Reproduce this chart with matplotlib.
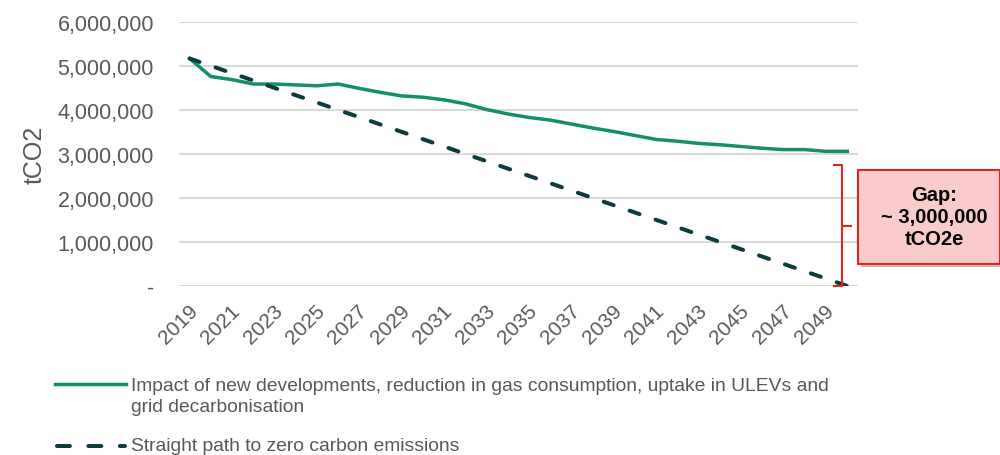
import matplotlib.pyplot as plt
import matplotlib.transforms as mtransforms
from matplotlib.lines import Line2D
from matplotlib.patches import Rectangle
from matplotlib.ticker import FuncFormatter

plt.rcParams['font.family'] = ['Liberation Sans', 'DejaVu Sans']

years = list(range(2019, 2051))
emissions = [5170000, 4760000, 4690000, 4590000, 4590000, 4570000, 4550000, 4590000,
             4490000, 4400000, 4320000, 4290000, 4230000, 4140000, 4010000, 3910000,
             3830000, 3770000, 3680000, 3590000, 3510000, 3420000, 3330000, 3290000,
             3240000, 3210000, 3170000, 3130000, 3100000, 3100000, 3060000, 3060000]
straight_years = [2019, 2050]
straight_path = [5170000, 0]

label_green = ('Impact of new developments, reduction in gas consumption, uptake in ULEVs and\n'
               'grid decarbonisation')
label_dash = 'Straight path to zero carbon emissions'
gap_text = 'Gap:\n~ 3,000,000\ntCO2e'

green = '#138f6a'
dark = '#0d3b40'
grey = '#595959'
red = '#e2261c'

fig = plt.figure(figsize=(10, 4.56), dpi=100)
ax = fig.add_axes([0.179, 0.3706, 0.679, 0.579])

ax.plot(years, emissions, color=green, lw=2.5, zorder=3)
ax.plot(straight_years, straight_path, color=dark, lw=2.9, dashes=(2.6, 4.2),
        dash_capstyle='round', zorder=3)

ax.set_xlim(2018.5, 2050.5)
ax.set_ylim(0, 6000000)
ax.set_yticks(range(0, 6000001, 1000000))
ax.yaxis.set_major_formatter(FuncFormatter(lambda v, p: '-' if v == 0 else f'{int(v):,}'))
ax.set_xticks(years[::2])
ax.set_xticklabels([str(y) for y in years[::2]], rotation=45, ha='right', va='center',
                   rotation_mode='anchor')
ax.tick_params(axis='both', length=0, colors=grey)
ax.tick_params(axis='y', pad=18, labelsize=15.5)
ax.tick_params(axis='x', pad=15, labelsize=15)
# nudge year labels a little to the right (after tick_params, which resets transforms)
shift = mtransforms.ScaledTranslation(5 / 100, 0, fig.dpi_scale_trans)
for tick in ax.xaxis.get_major_ticks():
    tick.label1.set_transform(tick.label1.get_transform() + shift)
ax.grid(axis='y', color='#d9d9d9', lw=1.5)
ax.set_axisbelow(True)
for s in ax.spines.values():
    s.set_visible(False)
ax.set_ylabel('tCO2', color=grey, fontsize=18, labelpad=8)

# gap bracket
bx = 2049.75
ax.plot([bx - 0.38, bx, bx, bx - 0.38], [2750000, 2750000, 0, 0], color=red, lw=1.5,
        clip_on=False, zorder=4)
ax.plot([bx, bx + 0.42], [1360000, 1360000], color=red, lw=1.5, clip_on=False, zorder=4)

# gap box
fig.patches.append(Rectangle((0.861, 0.412), 0.142, 0.206, transform=fig.transFigure,
                             facecolor='#bfbfbf', edgecolor='none', zorder=1))
fig.patches.append(Rectangle((0.858, 0.419), 0.142, 0.206, transform=fig.transFigure,
                             facecolor='#f9cbcb', edgecolor=red, lw=1.5, zorder=2))
fig.text(0.934, 0.522, gap_text, ha='center', va='center', fontsize=14.5,
         fontweight='bold', linespacing=1.2, color='black')

# legend
fig.add_artist(Line2D([0.055, 0.126], [1 - 385 / 456] * 2, color=green, lw=2.5))
fig.text(0.131, 1 - 397 / 456, label_green, ha='left', va='center', fontsize=13.9,
         color=grey, linespacing=1.35)
fig.add_artist(Line2D([0.057, 0.125], [1 - 447 / 456] * 2, color=dark, lw=2.9,
                      dashes=(3.2, 4.6), dash_capstyle='round'))
fig.text(0.131, 1 - 447 / 456, label_dash, ha='left', va='center', fontsize=13.9,
         color=grey)

fig.savefig('out.png', dpi=100)
